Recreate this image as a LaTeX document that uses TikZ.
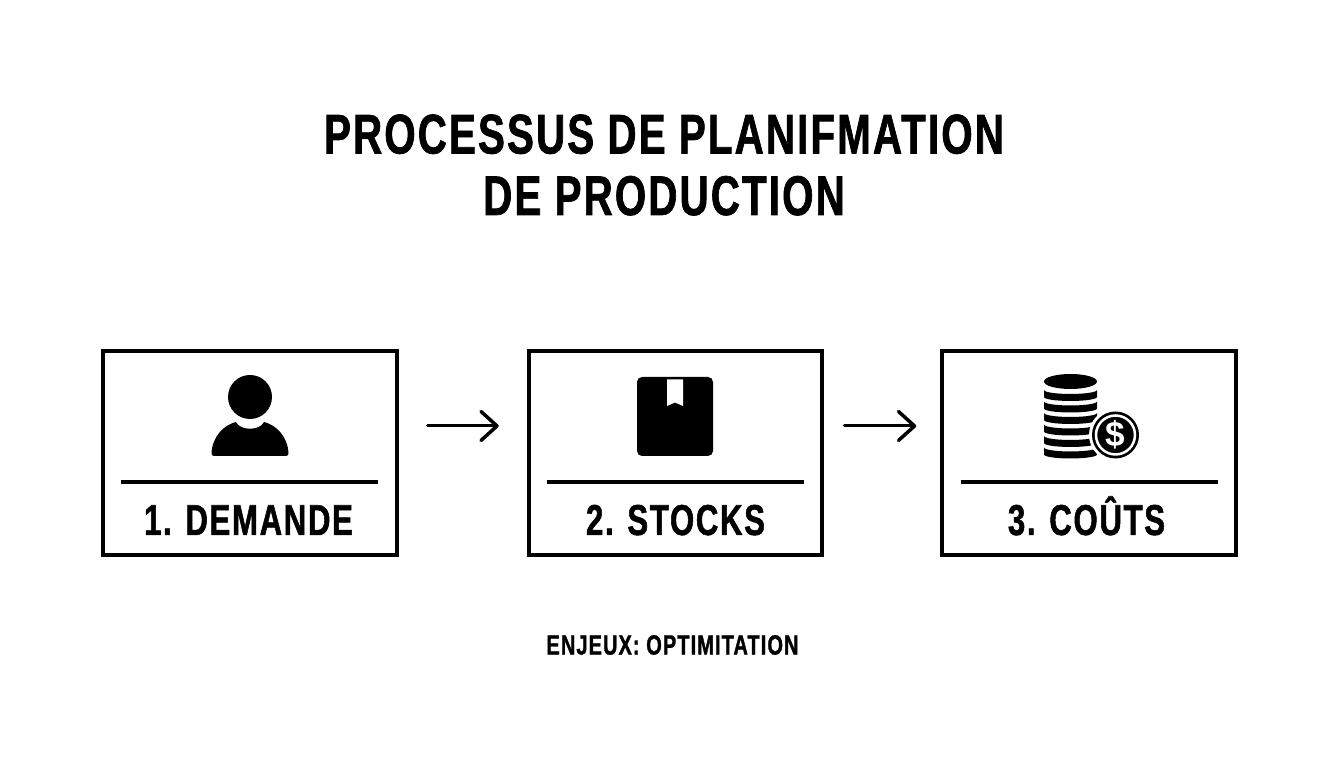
\documentclass[tikz,border=0pt]{standalone}
\usepackage{fontspec}
\usepackage{tikz}
\usetikzlibrary{arrows.meta}
\newfontfamily\condfont[FakeStretch=0.72, LetterSpace=3.9, BoldFeatures={FakeBold=1.2}]{Liberation Sans}
\tikzset{
	box/.style={draw=black, line width=0.04cm, minimum width=2.935cm, minimum height=2.035cm, inner sep=0pt, outer sep=0pt},
	sepline/.style={black, line width=0.035cm},
	boxlabel/.style={black, inner sep=0pt, anchor=base, font=\condfont\bfseries\fontsize{12.3}{14}\selectfont},
	flow/.style={black, line width=0.03cm, line cap=round, -{Straight Barb[round, length=0.16cm, width=0.29cm, line width=0.035cm]}}
}
\begin{document}
\begin{tikzpicture}
\useasboundingbox (0,0) rectangle (13.44,7.68);
\node[black, align=center, inner sep=0pt, font=\condfont\bfseries\fontsize{15.9}{17.5}\selectfont] (title) at (6.64,6.03) {PROCESSUS DE PLANIFMATION\\DE PRODUCTION};
\foreach \nm/\x/\lx/\lbl in {demande/2.498/2.485/1. DEMANDE,stocks/6.755/6.755/2. STOCKS,couts/10.89/10.865/3. COÛTS}{
	\node[box] (\nm) at (\x,3.15) {};
	\draw[sepline] (\x-1.285,2.86) -- (\x+1.285,2.86);
	\node[boxlabel] (\nm-label) at (\lx,2.33) {\lbl};
}
\draw[flow, shorten <=0.31cm, shorten >=0.3cm] ([yshift=0.27cm]demande.east) -- ([yshift=0.27cm]stocks.west);
\draw[flow, shorten <=0.22cm, shorten >=0.26cm] ([yshift=0.27cm]stocks.east) -- ([yshift=0.27cm]couts.west);
\fill[black] (2.5,3.71) circle (0.22);
\fill[black] (2.14,3.12) -- (2.86,3.12) .. controls (2.88,3.12) and (2.885,3.135) .. (2.885,3.15) .. controls (2.875,3.32) and (2.76,3.43) .. (2.64,3.46) .. controls (2.60,3.37) and (2.40,3.37) .. (2.36,3.46) .. controls (2.24,3.43) and (2.125,3.32) .. (2.115,3.15) .. controls (2.115,3.135) and (2.12,3.12) .. (2.14,3.12) -- cycle;
\fill[black, rounded corners=0.05cm] (6.37,3.12) rectangle (7.13,3.91);
\fill[white] (6.67,3.885) -- (6.83,3.885) -- (6.83,3.62) -- (6.75,3.655) -- (6.67,3.62) -- cycle;
\fill[black] (10.705,3.865) ellipse (0.265 and 0.075);
\foreach \y in {3.78,3.665,3.55,3.435,3.32,3.205}{
	\fill[black] (10.44,\y) arc[start angle=180, end angle=360, x radius=0.265, y radius=0.04] -- ++(0,-0.07) arc[start angle=0, end angle=-180, x radius=0.265, y radius=0.04] -- cycle;
}
\fill[white] (11.155,3.33) circle (0.265);
\fill[black] (11.155,3.33) circle (0.235);
\draw[white, line width=0.025cm] (11.155,3.33) circle (0.195);
\node[white, inner sep=0pt, font=\fontspec{Liberation Sans}\bfseries\fontsize{10}{12}\selectfont] (dollar) at (11.155,3.33) {\$};
\node[black, inner sep=0pt, font=\condfont\bfseries\fontsize{7.9}{9}\selectfont] (enjeux) at (6.725,1.23) {ENJEUX: OPTIMITATION};
\end{tikzpicture}
\end{document}
